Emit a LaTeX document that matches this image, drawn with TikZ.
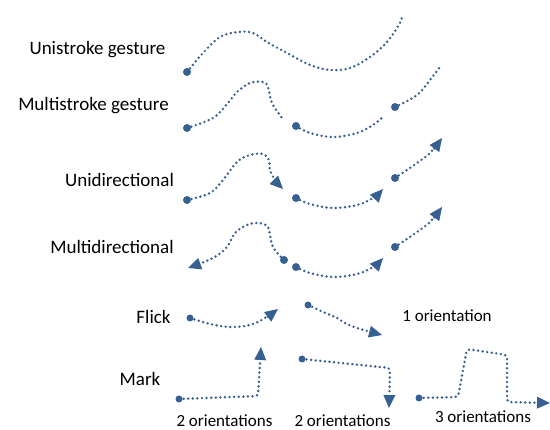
\documentclass[tikz,border=0pt]{standalone}
\usepackage{fontspec}
\setmainfont{Carlito}
\usetikzlibrary{arrows.meta}
\definecolor{gblue}{RGB}{55,96,146}
\tikzset{
  dots/.style={draw=gblue, line width=2.7pt, line cap=round, dash pattern=on 0pt off 4.6pt},
  arr/.style={-{Triangle[length=13pt,width=12pt,fill=gblue,line width=0pt]}},
  startdot/.style={circle, fill=gblue, inner sep=0pt, minimum size=8pt},
  smalldot/.style={circle, fill=gblue, inner sep=0pt, minimum size=7pt},
  lab/.style={font=\fontsize{19}{21}\selectfont, inner sep=0pt},
  olab/.style={font=\fontsize{17}{19}\selectfont, inner sep=0pt}
}
\begin{document}
\begin{tikzpicture}[x=1pt,y=-1pt]
\useasboundingbox (0,0) rectangle (550,430);
% labels
\node[lab] (l1) at (97.5,50) {Unistroke gesture};
\node[lab] (l2) at (93.5,106) {Multistroke gesture};
\node[lab] (l3) at (119.5,180) {Unidirectional};
\node[lab] (l4) at (112,247) {Multidirectional};
\node[lab] (l5) at (153.5,317) {Flick};
\node[lab] (l6) at (140,379) {Mark};
\node[olab] (o1) at (447,316) {1 orientation};
\node[olab] (o2) at (224.5,421) {2 orientations};
\node[olab] (o3) at (342.5,421) {2 orientations};
\node[olab] (o4) at (483,417) {3 orientations};
% unistroke
\draw[dots] plot[smooth,tension=0.6] coordinates {(187,72) (203,53) (220,37) (238,32) (253,33) (267,42) (287,53) (310,65) (330,70) (350,68) (370,57) (387,42) (400,23) (402,15)};
\node[startdot] (u1) at (187,72) {};
% multistroke
\draw[dots] plot[smooth,tension=0.6] coordinates {(187,128) (213,118) (228,103) (237,92) (250,83) (263,82) (268,87) (272,103) (282,118)};
\draw[dots] plot[smooth,tension=0.6] coordinates {(296,126) (310,133) (333,137) (357,133) (373,125) (383,117)};
\draw[dots] plot[smooth,tension=0.6] coordinates {(395,107) (417,95) (430,80) (440,67)};
\node[startdot] (m1) at (187,128) {};
\node[startdot] (m2) at (296,126) {};
\node[startdot] (m3) at (395,107) {};
% unidirectional
\draw[dots,arr] plot[smooth,tension=0.6] coordinates {(187,200) (210,193) (223,180) (237,162) (250,155) (263,154) (269,160) (270,170) (275,180) (283,189)};
\draw[dots,arr] plot[smooth,tension=0.6] coordinates {(296,198) (310,204) (333,208) (357,205) (373,198) (383,189)};
\draw[dots,arr] plot[smooth,tension=0.6] coordinates {(395,178) (417,163) (430,153) (442,138)};
\node[startdot] (d1) at (187,200) {};
\node[startdot] (d2) at (296,198) {};
\node[startdot] (d3) at (395,178) {};
% multidirectional
\draw[dots,arr] plot[smooth,tension=0.6] coordinates {(284,260) (273,247) (269,230) (266,225) (258,223) (247,225) (235,233) (227,247) (213,258) (188,268)};
\draw[dots,arr] plot[smooth,tension=0.6] coordinates {(296,267) (310,273) (333,277) (357,274) (373,267) (383,258)};
\draw[dots,arr] plot[smooth,tension=0.6] coordinates {(395,247) (417,232) (430,222) (442,207)};
\node[startdot] (e1) at (284,260) {};
\node[startdot] (e2) at (296,267) {};
\node[startdot] (e3) at (395,247) {};
% flick
\draw[dots,arr] plot[smooth,tension=0.6] coordinates {(190,318) (210,324) (230,327) (250,325) (265,318) (278,309)};
\draw[dots,arr] plot[smooth,tension=0.6] coordinates {(308,305) (323,312) (337,318) (345,323) (357,328) (382,335)};
\node[smalldot] (f1) at (190,318) {};
\node[smalldot] (f2) at (308,305) {};
% mark
\draw[dots,arr,rounded corners=3pt] (179,399) -- (258,396) -- (261,347);
\draw[dots,arr,rounded corners=3pt] (302,359) -- (390,368) -- (389,408);
\draw[dots,arr,rounded corners=3pt] (419,398) -- (458,397) -- (467,349) -- (507,355) -- (507,402) -- (550,403);
\node[smalldot] (k1) at (179,399) {};
\node[smalldot] (k2) at (302,359) {};
\node[smalldot] (k3) at (419,398) {};
\end{tikzpicture}
\end{document}
